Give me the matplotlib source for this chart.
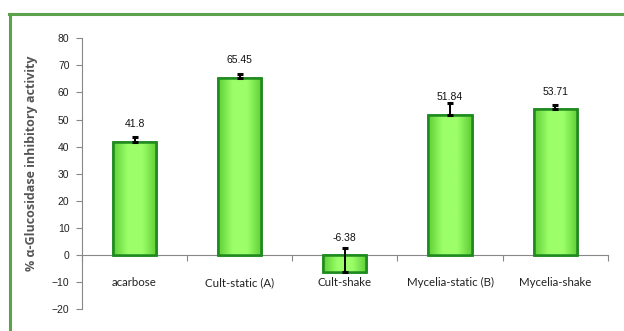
import numpy as np
import matplotlib.pyplot as plt
from matplotlib.lines import Line2D
from matplotlib.colors import LinearSegmentedColormap

samples = ['acarbose', 'Cult-static (A)', 'Cult-shake', 'Mycelia-static (B)', 'Mycelia-shake']
inhibition = [41.8, 65.45, -6.38, 51.84, 53.71]
err_up = [1.6, 1.3, 8.8, 4.4, 1.6]

num_font = 'Liberation Sans'
cat_font = 'Lato'
frame_green = '#5ca14c'

fig = plt.figure(figsize=(6.24, 3.31), dpi=100)
ax = fig.add_axes([0.1314, 0.0665, 0.8426, 0.8178])

x = np.arange(len(samples))
bars = ax.bar(x, inhibition, width=0.41, color='#93f55f',
              edgecolor='#1f8a1f', linewidth=1.8, zorder=3)

# soft horizontal shading inside each bar
shade = LinearSegmentedColormap.from_list('shade', ['#5fcf36', '#9cff6a', '#9cff6a', '#5fcf36'])
grad = np.linspace(0, 1, 64).reshape(1, -1)
for b in bars:
    x0, y0 = b.get_x(), b.get_y()
    w, h = b.get_width(), b.get_height()
    im = ax.imshow(grad, cmap=shade, aspect='auto', zorder=3.5,
                   extent=[x0, x0 + w, y0, y0 + h], interpolation='bicubic')
    im.set_clip_path(b)
    edge = plt.Rectangle((x0, y0), w, h, fill=False, edgecolor='#1f8a1f',
                         linewidth=1.8, zorder=4)
    ax.add_patch(edge)

ax.errorbar(x, inhibition, yerr=[np.zeros(len(err_up)), err_up], fmt='none',
            ecolor='black', elinewidth=1.4, capsize=2.5, capthick=2.2, zorder=5)

for xi, v in zip(x, inhibition):
    ax.text(xi, max(v, 0) + 6.4, f'{v:g}', ha='center', va='center',
            fontsize=7.5, family=num_font, color='#111111', zorder=6)

ax.set_xlim(-0.5, len(samples) - 0.5)
ax.set_ylim(-20, 80)
ax.set_yticks(range(-20, 81, 10))
ax.tick_params(axis='y', labelsize=7.5, length=4, width=0.8, color='#888888',
               labelcolor='#222222', pad=5)
for lbl in ax.get_yticklabels():
    lbl.set_family(num_font)

# category names sit on a common baseline below the zero line
ax.set_xticks(np.arange(len(samples) + 1) - 0.5)
ax.tick_params(axis='x', length=4, width=0.8, color='#888888', labelbottom=False)
for xi, name in zip(x, samples):
    ax.text(xi, 0.085, name, transform=ax.get_xaxis_transform(), ha='center',
            va='baseline', fontsize=8.3, family=cat_font, color='#222222')

for side in ['top', 'right']:
    ax.spines[side].set_visible(False)
ax.spines['bottom'].set_position(('data', 0))
for side in ['bottom', 'left']:
    ax.spines[side].set_color('#888888')
    ax.spines[side].set_linewidth(0.8)

ax.set_ylabel('% α-Glucosidase inhibitory activity', fontsize=9,
              fontweight='bold', color='#555555', family='Open Sans')
ax.yaxis.set_label_coords(-0.083, 0.54)

# green frame along top and left edges
fig.add_artist(Line2D([9.5 / 624, 9.5 / 624], [0, 1 - 14 / 331], color=frame_green,
                      linewidth=2.2, transform=fig.transFigure))
fig.add_artist(Line2D([8.5 / 624, 1], [1 - 14 / 331, 1 - 14 / 331], color=frame_green,
                      linewidth=2.2, transform=fig.transFigure))

fig.savefig('out.png', dpi=100)
